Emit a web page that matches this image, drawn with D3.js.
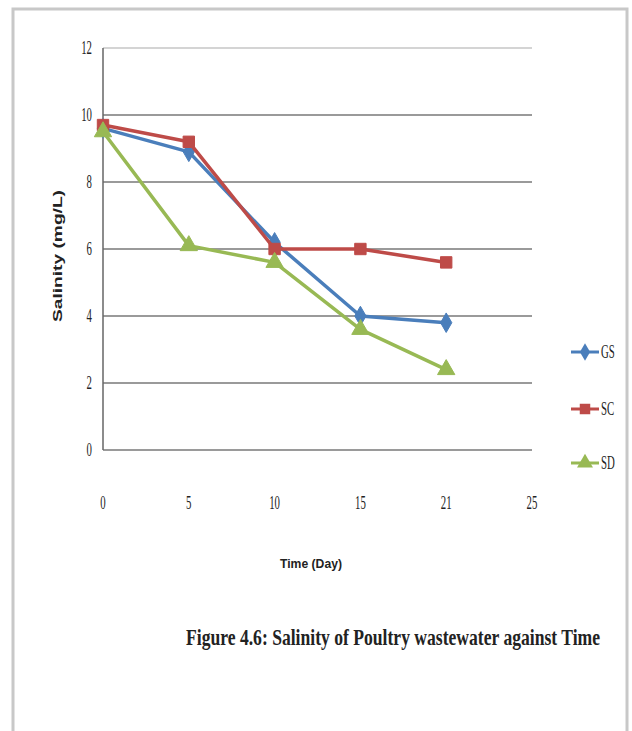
<!DOCTYPE html>
<html>
<head>
<meta charset="utf-8">
<script src="https://cdn.jsdelivr.net/npm/d3@7"></script>
<style>
  html, body { margin: 0; padding: 0; background: #fff; }
  svg { display: block; }
</style>
</head>
<body>
<svg id="chart" width="632" height="731"></svg>
<script>
// Sampling days (category axis) and salinity readings (mg/L)
const days = ["0", "5", "10", "15", "21", "25"];
const gsValues = [9.6, 8.9, 6.2, 4.0, 3.8];
const scValues = [9.7, 9.2, 6.0, 6.0, 5.6];
const sdValues = [9.5, 6.1, 5.6, 3.6, 2.4];
const yTicks = [0, 2, 4, 6, 8, 10, 12];
const seriesNames = ["GS", "SC", "SD"];
const seriesColors = ["#4a7ebb", "#be4b48", "#98b954"];
const seriesSymbols = [d3.symbolDiamond, d3.symbolSquare, d3.symbolTriangle];

const serif = "'Liberation Serif', 'DejaVu Serif', serif";
const sans = "'Liberation Sans', Arial, sans-serif";

const series = seriesNames.map((name, i) => ({
  name,
  color: seriesColors[i],
  symbol: seriesSymbols[i],
  values: [gsValues, scValues, sdValues][i].map((v, j) => ({ day: days[j], value: v }))
}));

const svg = d3.select("#chart");

// Squeeze a text horizontally so it spans the given width
function fitWidth(sel, width) {
  sel.each(function () {
    const node = this;
    const w = node.getComputedTextLength();
    if (w > 0) node.setAttribute("textLength", width);
    node.setAttribute("lengthAdjust", "spacingAndGlyphs");
  });
}

// Page frame
svg.append("rect")
  .attr("x", 13).attr("y", 9)
  .attr("width", 614).attr("height", 740)
  .attr("fill", "#fff")
  .attr("stroke", "#c8c8c8")
  .attr("stroke-width", 3);

const x = d3.scalePoint().domain(days).range([103, 532]);
const y = d3.scaleLinear().domain([0, 12]).range([450, 48]);

// Horizontal gridlines
svg.append("g")
  .selectAll("line")
  .data(yTicks)
  .join("line")
  .attr("x1", 103).attr("x2", 532)
  .attr("y1", d => y(d)).attr("y2", d => y(d))
  .attr("stroke", d => d === 12 ? "#d4d4d4" : "#9a9a9a")
  .attr("stroke-width", 2.2);

// Vertical axis line
svg.append("line")
  .attr("x1", 103).attr("x2", 103)
  .attr("y1", y(12)).attr("y2", y(0))
  .attr("stroke", "#666")
  .attr("stroke-width", 1.5);

// Y tick labels (narrow serif digits)
svg.append("g")
  .selectAll("text")
  .data(yTicks)
  .join("text")
  .attr("transform", d => `translate(92,${y(d) + 6}) scale(0.6,1)`)
  .attr("text-anchor", "end")
  .style("font-family", serif)
  .style("font-size", "18px")
  .style("fill", "#222")
  .text(d => d);

// X tick labels
svg.append("g")
  .selectAll("text")
  .data(days)
  .join("text")
  .attr("transform", d => `translate(${x(d)},509) scale(0.6,1)`)
  .attr("text-anchor", "middle")
  .style("font-family", serif)
  .style("font-size", "18px")
  .style("fill", "#222")
  .text(d => d);

// Axis titles
svg.append("text")
  .attr("transform", "translate(62,256) rotate(-90)")
  .attr("text-anchor", "middle")
  .style("font-family", sans)
  .style("font-weight", "bold")
  .style("font-size", "12px")
  .style("fill", "#222")
  .text("Salinity (mg/L)")
  .call(fitWidth, 132);

svg.append("text")
  .attr("x", 311).attr("y", 568)
  .attr("text-anchor", "middle")
  .style("font-family", sans)
  .style("font-weight", "bold")
  .style("font-size", "13px")
  .style("fill", "#222")
  .text("Time (Day)")
  .call(fitWidth, 62);

// Series lines and markers
const line = d3.line()
  .x(d => x(d.day))
  .y(d => y(d.value));

const gSeries = svg.append("g")
  .selectAll("g")
  .data(series)
  .join("g");

gSeries.append("path")
  .attr("d", d => line(d.values))
  .attr("fill", "none")
  .attr("stroke", d => d.color)
  .attr("stroke-width", 3.5)
  .attr("stroke-linejoin", "round");

gSeries.each(function (s) {
  d3.select(this).selectAll("path.mark")
    .data(s.values)
    .join("path")
    .attr("class", "mark")
    .attr("transform", d => `translate(${x(d.day)},${y(d.value)})`)
    .attr("d", d3.symbol().type(s.symbol).size(s.symbol === d3.symbolDiamond ? 110 : 130))
    .attr("fill", s.color)
    .attr("stroke", s.color)
    .attr("stroke-width", 1);
});

// Legend
const legendY = [352, 409, 463];
const legend = svg.append("g")
  .selectAll("g")
  .data(series)
  .join("g")
  .attr("transform", (d, i) => `translate(0,${legendY[i]})`);

legend.append("line")
  .attr("x1", 571).attr("x2", 599)
  .attr("y1", 0).attr("y2", 0)
  .attr("stroke", d => d.color)
  .attr("stroke-width", 3);

legend.append("path")
  .attr("transform", "translate(585,0)")
  .attr("d", d => d3.symbol().type(d.symbol).size(d.symbol === d3.symbolDiamond ? 90 : 110)())
  .attr("fill", d => d.color);

legend.append("text")
  .attr("transform", "translate(601,6) scale(0.6,1)")
  .style("font-family", serif)
  .style("font-size", "18px")
  .style("fill", "#222")
  .text(d => d.name);

// Figure caption
svg.append("text")
  .attr("transform", "translate(186,645) scale(0.72,1)")
  .style("font-family", serif)
  .style("font-weight", "bold")
  .style("font-size", "24px")
  .style("fill", "#222")
  .text("Figure 4.6: Salinity of Poultry wastewater against Time")
  .call(fitWidth, 414 / 0.72);
</script>
</body>
</html>
